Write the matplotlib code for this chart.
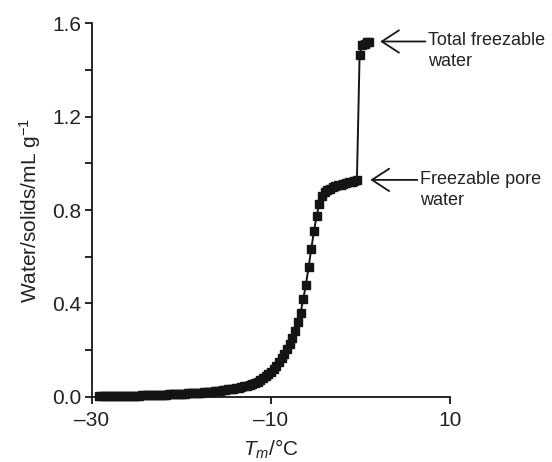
import matplotlib
matplotlib.use('Agg')
import matplotlib.pyplot as plt
from matplotlib.ticker import FixedLocator, FixedFormatter

# font setup, Helvetica-like
plt.rcParams['font.family'] = ['Liberation Sans', 'DejaVu Sans']
plt.rcParams['mathtext.fontset'] = 'custom'
plt.rcParams['mathtext.rm'] = 'Liberation Sans'
plt.rcParams['mathtext.it'] = 'Liberation Sans:italic'

# melting temperature (deg C)
temp = [-29.2, -28.9, -28.6, -28.3, -28.0, -27.7, -27.4, -27.1, -26.8, -26.5,
        -26.2, -25.9, -25.6, -25.3, -25.0, -24.7, -24.4, -24.1, -23.8, -23.5,
        -23.2, -22.9, -22.6, -22.3, -22.0, -21.7, -21.4, -21.1, -20.8, -20.5,
        -20.2, -19.9, -19.6, -19.3, -19.0, -18.7, -18.4, -18.1, -17.8, -17.5,
        -17.2, -16.9, -16.6, -16.3, -16.0, -15.7, -15.4, -15.1, -14.8, -14.5,
        -14.2, -13.9, -13.6, -13.3, -13.0, -12.7, -12.4, -12.1, -11.8, -11.5,
        -11.2, -10.9, -10.6, -10.3, -10.0, -9.7, -9.4, -9.1, -8.8, -8.5,
        -8.2, -7.9, -7.6, -7.3, -7.0, -6.7, -6.4, -6.1, -5.8, -5.5,
        -5.2, -4.9, -4.6, -4.3, -4.0, -3.7, -3.4, -3.1, -2.8, -2.5,
        -2.2, -1.9, -1.6, -1.3, -1.0, -0.7, -0.4,
        -0.1, 0.2, 0.45, 0.7, 0.95]

# cumulative freezable water (mL/g solids)
water = [0.003, 0.003, 0.003, 0.003, 0.003, 0.003, 0.003, 0.004, 0.004, 0.004,
         0.004, 0.004, 0.005, 0.005, 0.005, 0.005, 0.006, 0.006, 0.006, 0.007,
         0.007, 0.007, 0.008, 0.008, 0.009, 0.009, 0.010, 0.010, 0.011, 0.011,
         0.012, 0.012, 0.013, 0.014, 0.014, 0.015, 0.016, 0.017, 0.018, 0.019,
         0.020, 0.021, 0.022, 0.023, 0.025, 0.026, 0.028, 0.029, 0.031, 0.033,
         0.035, 0.037, 0.039, 0.042, 0.044, 0.047, 0.050, 0.054, 0.059, 0.065,
         0.073, 0.080, 0.088, 0.097, 0.107, 0.119, 0.133, 0.148, 0.165, 0.184,
         0.204, 0.226, 0.252, 0.282, 0.318, 0.360, 0.417, 0.480, 0.555, 0.633,
         0.710, 0.775, 0.825, 0.860, 0.877, 0.886, 0.892, 0.897, 0.901, 0.905,
         0.909, 0.912, 0.916, 0.919, 0.922, 0.926, 0.930,
         1.465, 1.508, 1.513, 1.518, 1.521]

# axis ticks
x_ticks = [-30, -10, 10]
x_labels = ['\u201330', '\u201310', '10']
y_ticks = [0.0, 0.4, 0.8, 1.2, 1.6]
y_labels = ['0.0', '0.4', '0.8', '1.2', '1.6']
y_minor = [0.2, 0.6, 1.0, 1.4]

# annotations: label, arrow tip (x, y), arrow tail x
notes = ['Total freezable\nwater', 'Freezable pore\nwater']
note_tip = [(2.2, 1.522), (1.1, 0.929)]
note_tail = [7.25, 6.35]

fig = plt.figure(figsize=(5.52, 4.62), dpi=100)
ax = fig.add_axes([0.1667, 0.1413, 0.6485, 0.8083])

ax.plot(temp, water, color='#141414', lw=1.4, marker='s', markersize=5.8,
        clip_on=False, zorder=5)

ax.set_xlim(-30, 10)
ax.set_ylim(0, 1.6)

ax.xaxis.set_major_locator(FixedLocator(x_ticks))
ax.xaxis.set_major_formatter(FixedFormatter(x_labels))
ax.yaxis.set_major_locator(FixedLocator(y_ticks))
ax.yaxis.set_major_formatter(FixedFormatter(y_labels))
ax.yaxis.set_minor_locator(FixedLocator(y_minor))

for s in ['top', 'right']:
    ax.spines[s].set_visible(False)
for s in ['left', 'bottom']:
    ax.spines[s].set_linewidth(1.3)
    ax.spines[s].set_color('#161616')

ax.tick_params(which='both', direction='out', width=1.3, length=5,
               labelsize=15, color='#161616', labelcolor='#222222', pad=3)
ax.tick_params(axis='x', pad=5)

ax.set_xlabel('$T_m$/\u00b0C', fontsize=15, color='#222222', labelpad=6)
ax.set_ylabel('Water/solids/mL g$^{\\mathregular{\u22121}}$', fontsize=15,
              color='#222222', labelpad=6)

# arrows with labels
for label, tip, tail in zip(notes, note_tip, note_tail):
    ax.annotate('', xy=tip, xytext=(tail, tip[1]), annotation_clip=False,
                arrowprops=dict(arrowstyle='->, head_length=0.95, head_width=0.62',
                                color='#161616', lw=1.3, mutation_scale=13,
                                shrinkA=0, shrinkB=0))
    ax.annotate(label, xy=(tail + 0.3, tip[1]), xytext=(0, 6.5),
                textcoords='offset points', fontsize=13, color='#222222',
                ha='left', va='top', linespacing=1.3, annotation_clip=False)

fig.savefig('out.png', dpi=100)
